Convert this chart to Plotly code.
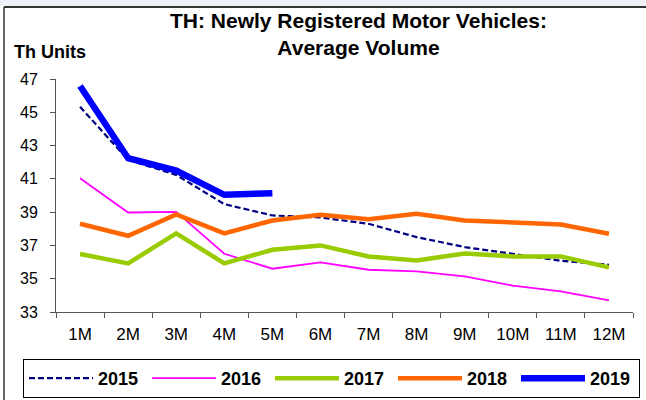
import plotly.graph_objects as go

months = ["1M", "2M", "3M", "4M", "5M", "6M", "7M", "8M", "9M", "10M", "11M", "12M"]

y2015 = [45.33, 42.14, 41.24, 39.48, 38.8, 38.68, 38.3, 37.5, 36.9, 36.48, 36.08, 35.84]
y2016 = [41.04, 38.98, 39.02, 36.5, 35.6, 35.98, 35.54, 35.44, 35.14, 34.58, 34.24, 33.7]
y2017 = [36.48, 35.92, 37.72, 35.92, 36.74, 37.0, 36.34, 36.1, 36.52, 36.34, 36.34, 35.68]
y2018 = [38.3, 37.58, 38.86, 37.72, 38.5, 38.84, 38.58, 38.9, 38.5, 38.38, 38.26, 37.7]
y2019 = [46.58, 42.24, 41.5, 40.04, 40.14]

series_names = ["2015", "2016", "2017", "2018", "2019"]
y_ticks = [33, 35, 37, 39, 41, 43, 45, 47]

styles = {
    "2015": dict(color="#000080", width=2.2, dash="6px,3px"),
    "2016": dict(color="#FF00FF", width=1.8),
    "2017": dict(color="#99CC00", width=4.5),
    "2018": dict(color="#FF6600", width=4.5),
    "2019": dict(color="#0000FF", width=6.5),
}

data = {"2015": y2015, "2016": y2016, "2017": y2017, "2018": y2018, "2019": y2019}

fig = go.Figure()
for name in series_names:
    vals = data[name]
    fig.add_trace(go.Scatter(
        x=months[:len(vals)], y=vals, name=name, mode="lines",
        line=styles[name],
    ))

L, R, T, B = 56, 13, 79, 88
W, H = 646, 400
pw = W - L - R
ph = H - T - B


def px_x(px):
    return (px - L) / pw


def px_y(py):
    return (H - B - py) / ph


fig.update_layout(
    width=W, height=H,
    margin=dict(l=L, r=R, t=T, b=B, pad=0, autoexpand=False),
    paper_bgcolor="white", plot_bgcolor="white",
    font=dict(family="Arial", color="black"),
    showlegend=True,
    legend=dict(
        orientation="h", xref="paper", yref="paper",
        x=px_x(23), xanchor="left", y=px_y(359), yanchor="top",
        bordercolor="black", borderwidth=1,
        font=dict(size=18, weight="bold", color="black"),
        itemwidth=64, entrywidth=44, entrywidthmode="pixels",
        traceorder="normal",
    ),
    xaxis=dict(
        type="category", categoryorder="array", categoryarray=months,
        range=[-0.5, 11.5], showgrid=False, zeroline=False,
        showline=True, linecolor="#555555", linewidth=1,
        ticks="outside", tickson="boundaries", ticklen=5, tickcolor="#555555",
        tickfont=dict(size=17, color="black"), ticklabelstandoff=7,
    ),
    yaxis=dict(
        range=[33, 47], tickvals=y_ticks, showgrid=False, zeroline=False,
        showline=True, linecolor="#555555", linewidth=1,
        ticks="outside", ticklen=5, tickcolor="#555555",
        tickfont=dict(size=16, color="black"), ticklabelstandoff=9,
    ),
    annotations=[
        dict(text="TH: Newly Registered Motor Vehicles:<br>Average Volume",
             xref="paper", yref="paper", x=px_x(358), y=px_y(7),
             xanchor="center", yanchor="top", showarrow=False,
             font=dict(size=21, weight="bold", color="black")),
        dict(text="Th Units", xref="paper", yref="paper",
             x=px_x(12), y=px_y(52), xanchor="left", yanchor="middle",
             showarrow=False, font=dict(size=18, weight="bold", color="black")),
    ],
    shapes=[
        dict(type="rect", xref="paper", yref="paper",
             x0=px_x(0), x1=px_x(646), y0=px_y(0), y1=px_y(6),
             fillcolor="#EEF1F8", line=dict(width=0), layer="below"),
        dict(type="line", xref="paper", yref="paper",
             x0=px_x(4), x1=px_x(646), y0=px_y(7), y1=px_y(7),
             line=dict(color="#333333", width=2)),
        dict(type="line", xref="paper", yref="paper",
             x0=px_x(4), x1=px_x(4), y0=px_y(7), y1=px_y(400),
             line=dict(color="#333333", width=1.5)),
    ],
)

fig.write_html("out.html", config={"displayModeBar": False},
               post_script="document.body.style.margin='0';")
